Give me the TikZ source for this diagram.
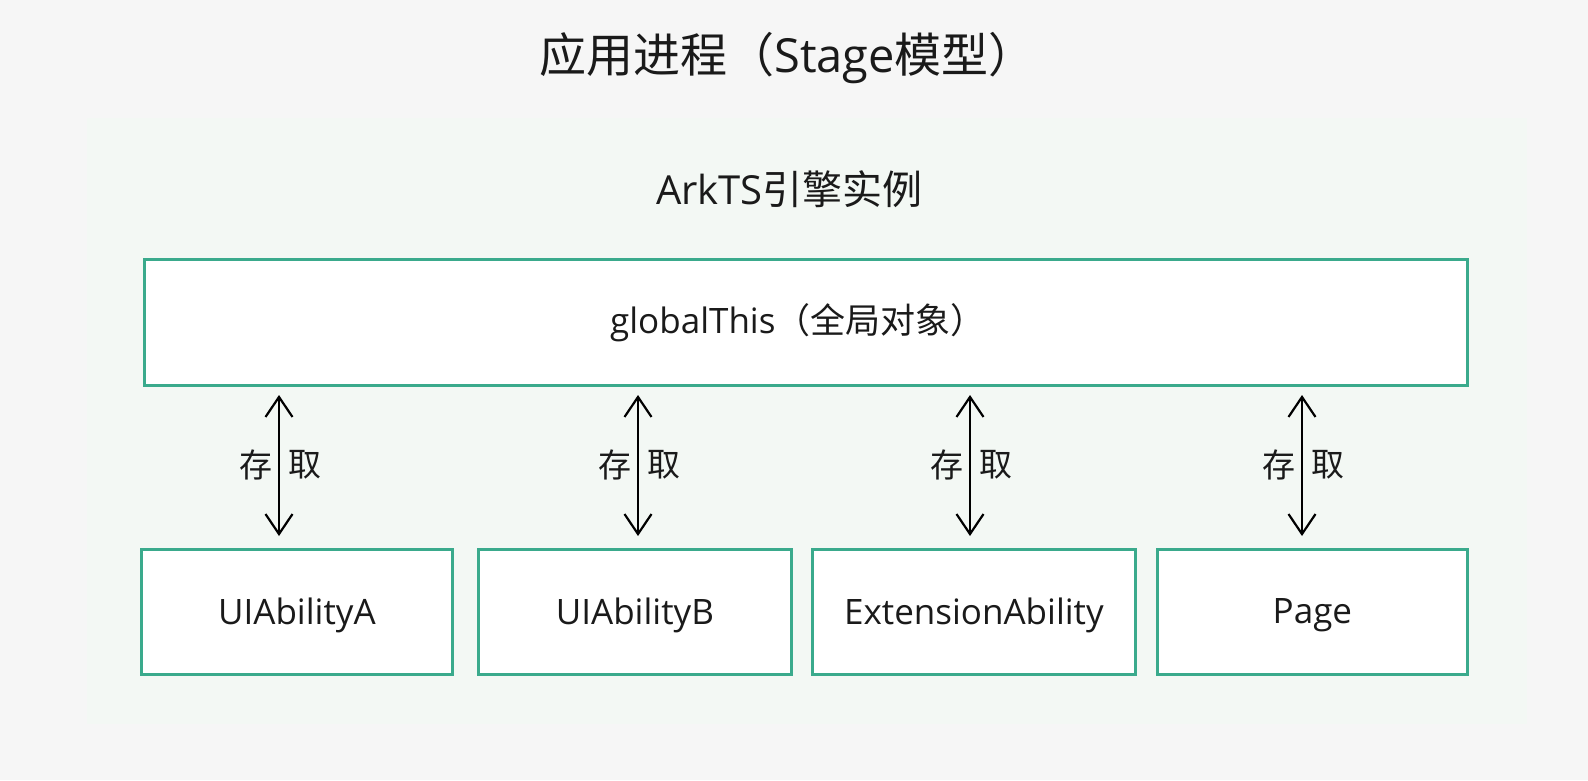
\documentclass[tikz,border=0pt]{standalone}
\usepackage{fontspec}
\setmainfont{Open Sans}
\newfontfamily\cjk{Noto Sans CJK SC}
\usetikzlibrary{arrows.meta}
\definecolor{bgout}{HTML}{F6F6F6}
\definecolor{bgpanel}{HTML}{F3F8F4}
\definecolor{teal}{HTML}{3AAA8C}
\definecolor{txt}{HTML}{1A1A1A}
\tikzset{
  box/.style={draw=teal, line width=2.8pt, fill=white, inner sep=0pt},
  lbl/.style={text=txt, font=\fontsize{35}{40}\selectfont, inner sep=0pt},
  acc/.style={{Straight Barb[length=20pt,width=27pt,line width=2.2pt]}-{Straight Barb[length=20pt,width=27pt,line width=2.2pt]}, line width=2.2pt, black},
}
\begin{document}
\begin{tikzpicture}[x=1pt,y=-1pt]
\useasboundingbox (0,0) rectangle (1588,780);
\fill[bgout] (0,0) rectangle (1588,780);
\fill[bgpanel] (87,118) rectangle (1527,724);
\node[text=txt, font=\fontsize{47}{54}\selectfont, inner sep=0pt, anchor=west] (title) at (539,58) {{\cjk 应用进程（}Stage{\cjk 模型）}};
\node[text=txt, font=\fontsize{40}{46}\selectfont, inner sep=0pt, anchor=west] (engine) at (656,189) {ArkTS{\cjk 引擎实例}};
\node[box, minimum width=1323pt, minimum height=126pt, anchor=north west] (g) at (143,258) {};
\node[lbl, anchor=west] at (610,323) {globalThis{\cjk （全局对象）}};
\node[box, minimum width=311pt, minimum height=125pt, anchor=north west] (a) at (140,548) {};
\node[box, minimum width=313pt, minimum height=125pt, anchor=north west] (b) at (477,548) {};
\node[box, minimum width=323pt, minimum height=125pt, anchor=north west] (c) at (811,548) {};
\node[box, minimum width=310pt, minimum height=125pt, anchor=north west] (d) at (1156,548) {};
\node[lbl] at ([yshift=-3pt]a.center) {UIAbilityA};
\node[lbl] at ([yshift=-3pt]b.center) {UIAbilityB};
\node[lbl] at ([yshift=-3pt]c.center) {ExtensionAbility};
\node[lbl] at ([yshift=-3pt]d.center) {Page};
\foreach \n/\x in {a/279,b/638,c/970,d/1302}{
  \coordinate (\n top) at (\x,395);
  \coordinate (\n bot) at (\x,536);
  \draw[acc] (\n top) -- (\n bot);
  \node[lbl, font=\fontsize{33}{38}\cjk] at (\x-23,465) {存};
  \node[lbl, font=\fontsize{33}{38}\cjk] at (\x+26,465) {取};
}
\end{tikzpicture}
\end{document}
